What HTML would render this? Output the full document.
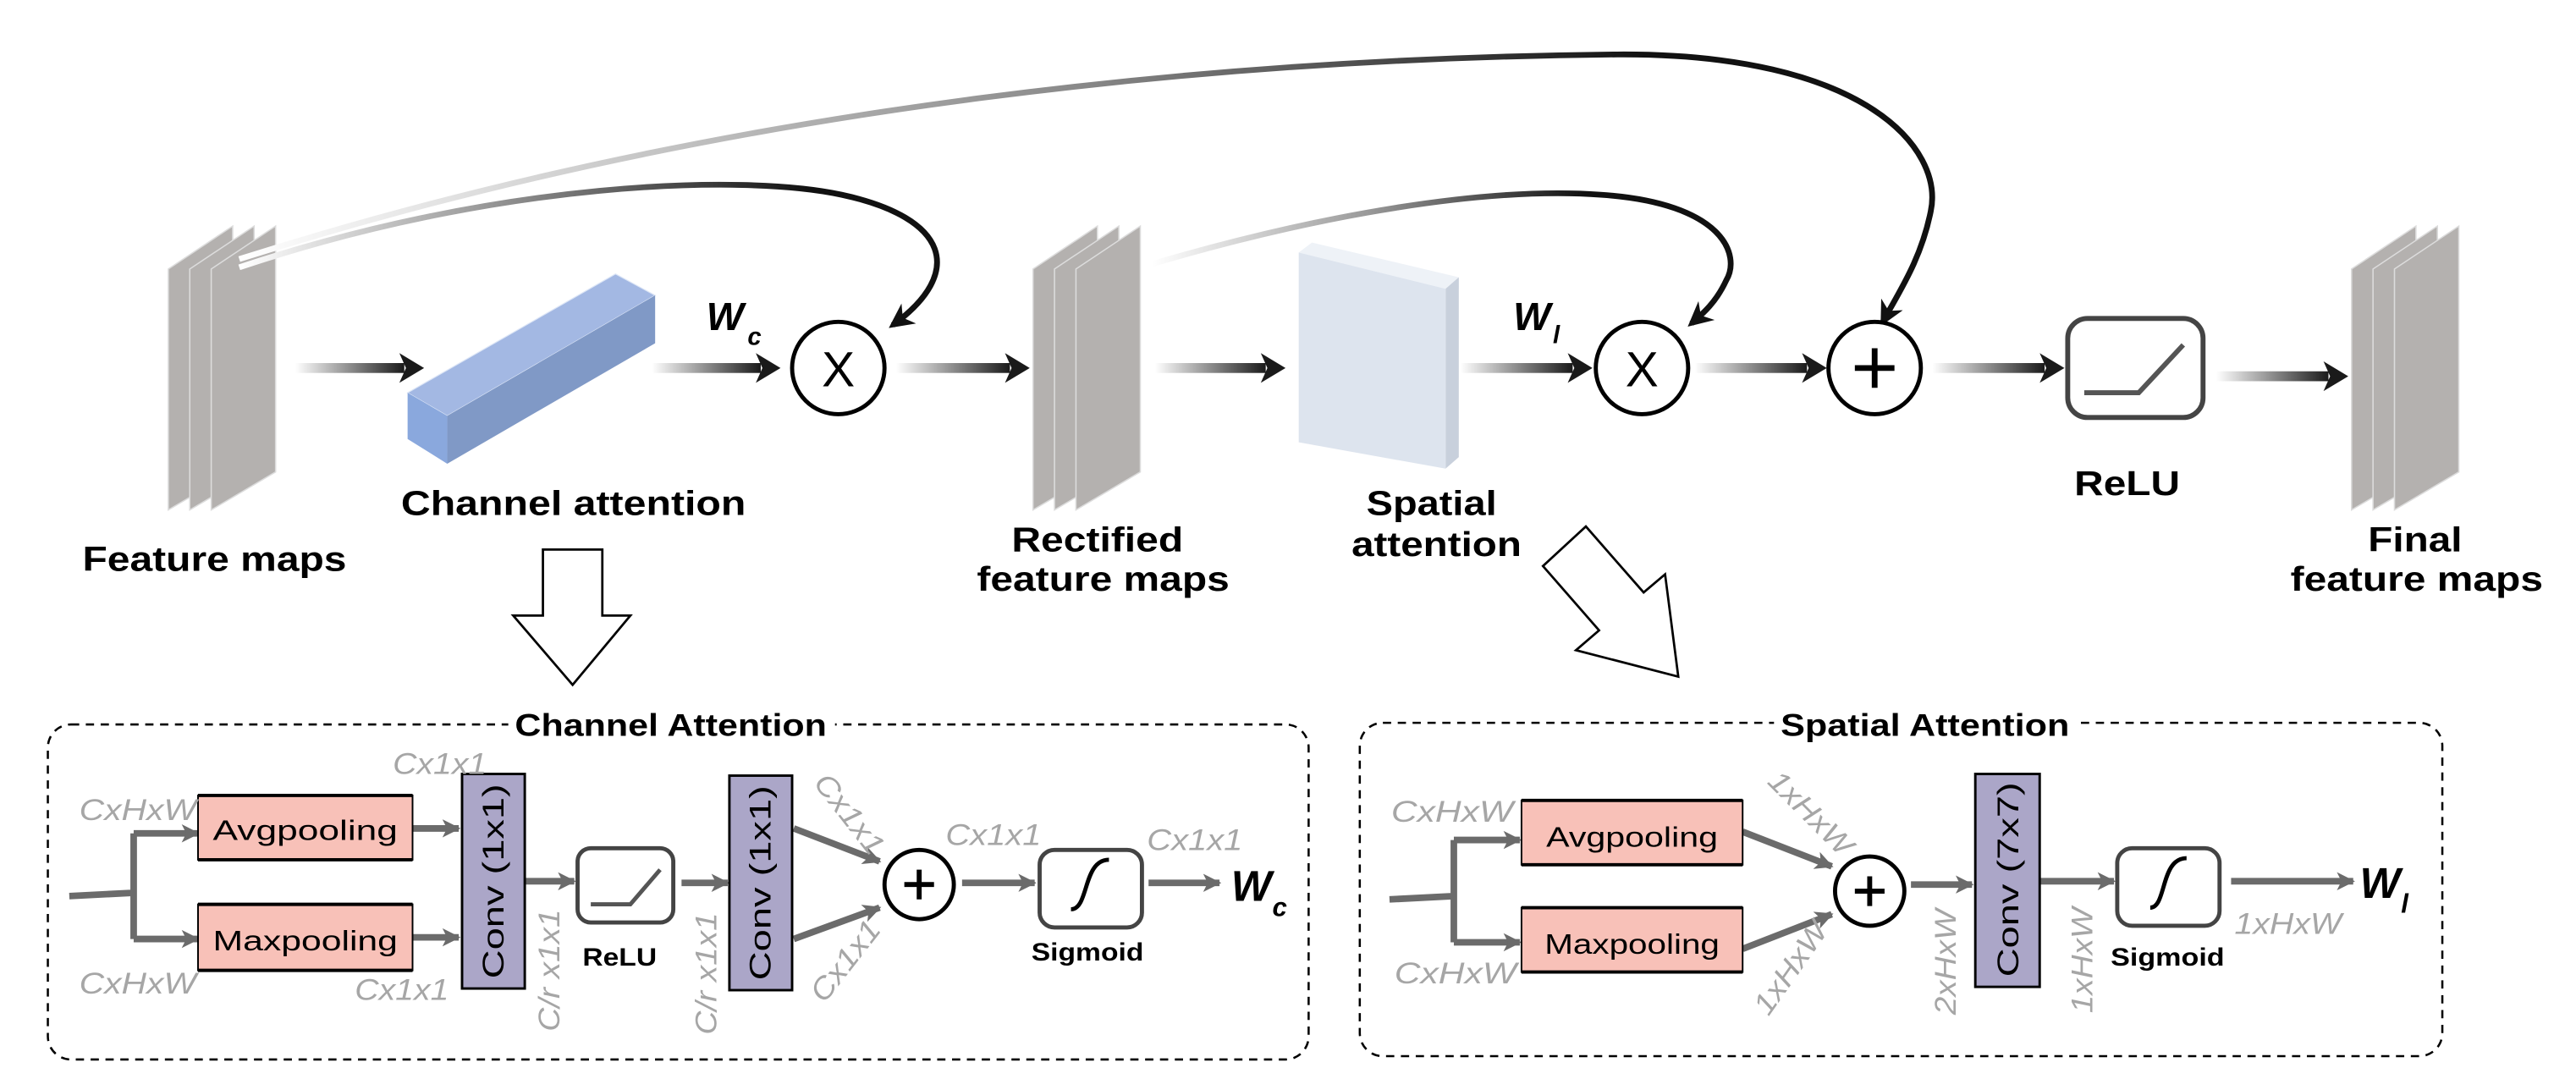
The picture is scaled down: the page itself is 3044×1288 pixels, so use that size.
<!DOCTYPE html>
<html><head><meta charset="utf-8"><style>html,body{margin:0;padding:0;background:#fff}svg{display:block}</style></head>
<body>
<svg width="3044" height="1288" viewBox="0 0 1561 660.5" preserveAspectRatio="none" xmlns="http://www.w3.org/2000/svg" font-family="'Liberation Sans', Arial, sans-serif">
<defs>
<linearGradient id="ag" x1="0" y1="0" x2="1" y2="0"><stop offset="0" stop-color="#fff"/><stop offset="1" stop-color="#1a1a1a"/></linearGradient>
<linearGradient id="gA" gradientUnits="userSpaceOnUse" x1="145" y1="0" x2="490" y2="0"><stop offset="0" stop-color="#fff"/><stop offset="0.5" stop-color="#888"/><stop offset="1" stop-color="#111"/></linearGradient>
<linearGradient id="gB" gradientUnits="userSpaceOnUse" x1="145" y1="0" x2="1000" y2="0"><stop offset="0" stop-color="#fff"/><stop offset="0.6" stop-color="#888"/><stop offset="1" stop-color="#111"/></linearGradient>
<linearGradient id="gC" gradientUnits="userSpaceOnUse" x1="698" y1="0" x2="960" y2="0"><stop offset="0" stop-color="#fff"/><stop offset="0.5" stop-color="#999"/><stop offset="1" stop-color="#111"/></linearGradient>
<marker id="mk" viewBox="0 0 10 10" refX="8" refY="5" markerUnits="userSpaceOnUse" markerWidth="15" markerHeight="15" orient="auto"><path d="M0,0 L10,5 L0,10 L3,5 z" fill="#111"/></marker>
<marker id="gm" viewBox="0 0 10 10" refX="9" refY="5" markerUnits="userSpaceOnUse" markerWidth="11" markerHeight="13" orient="auto"><path d="M0,0 L10,5 L0,10 L2.5,5 z" fill="#6b6b6b"/></marker>
</defs>

<!-- feature map stacks -->
<g id="fm" fill="#b4b1af" stroke="#dcdcdc" stroke-width="0.8">
<polygon points="102,163 141,137 141,286 102,309"/>
<polygon points="115,163 154,137 154,286 115,309"/>
<polygon points="128,163 167,137 167,286 128,309"/>
</g>
<use href="#fm" x="524"/>
<use href="#fm" x="1323"/>

<!-- curves -->
<path d="M145 162 C300 110,450 105,510 118 C575 132,585 165,541 197" fill="none" stroke="url(#gA)" stroke-width="3.5" marker-end="url(#mk)"/>
<path d="M145 157 C450 60,760 35,980 33 C1130 32,1178 90,1170 128 C1164 158,1150 178,1141 195" fill="none" stroke="url(#gB)" stroke-width="3.5" marker-end="url(#mk)"/>
<path d="M698 160 C800 130,900 113,970 118 C1045 123,1055 155,1046 170 C1040 183,1032 190,1025 196" fill="none" stroke="url(#gC)" stroke-width="3.5" marker-end="url(#mk)"/>

<!-- channel attention block -->
<polygon points="247,238 373,166 397,179 271,252" fill="#a3b8e3" stroke="#dde6f6" stroke-width="0.6"/>
<polygon points="271,252 397,179 397,208 271,281" fill="#8099c6"/>
<polygon points="247,238 271,252 271,281 247,266" fill="#8aa8dd"/>

<!-- spatial attention slab -->
<polygon points="787,153 795,147 884,168 876,175" fill="#eef2f7"/>
<polygon points="876,175 884,168 884,277 876,284" fill="#c8d0dc"/>
<polygon points="787,153 876,175 876,284 787,268" fill="#dde4ee"/>

<!-- main arrows -->
<g>
<rect x="179" y="220" width="66" height="6" fill="url(#ag)"/><polygon points="242,214 257,223 242,232 246,223" fill="#1a1a1a"/>
<rect x="395" y="220" width="66" height="6" fill="url(#ag)"/><polygon points="458,214 473,223 458,232 462,223" fill="#1a1a1a"/>
<rect x="543" y="220" width="69" height="6" fill="url(#ag)"/><polygon points="609,214 624,223 609,232 613,223" fill="#1a1a1a"/>
<rect x="700" y="220" width="67" height="6" fill="url(#ag)"/><polygon points="764,214 779,223 764,232 768,223" fill="#1a1a1a"/>
<rect x="885" y="220" width="68" height="6" fill="url(#ag)"/><polygon points="950,214 965,223 950,232 954,223" fill="#1a1a1a"/>
<rect x="1027" y="220" width="68" height="6" fill="url(#ag)"/><polygon points="1092,214 1107,223 1092,232 1096,223" fill="#1a1a1a"/>
<rect x="1171" y="220" width="68" height="6" fill="url(#ag)"/><polygon points="1236,214 1251,223 1236,232 1240,223" fill="#1a1a1a"/>
<rect x="1343" y="225" width="68" height="6" fill="url(#ag)"/><polygon points="1408,219 1423,228 1408,237 1412,228" fill="#1a1a1a"/>
</g>

<!-- operators -->
<circle cx="508" cy="223" r="28" fill="#fff" stroke="#000" stroke-width="2.5"/>
<text x="508" y="234" font-size="30" text-anchor="middle">X</text>
<circle cx="995" cy="223" r="28" fill="#fff" stroke="#000" stroke-width="2.5"/>
<text x="995" y="234" font-size="30" text-anchor="middle">X</text>
<circle cx="1136" cy="223" r="28" fill="#fff" stroke="#000" stroke-width="2.5"/>
<path d="M1124 223 H1148 M1136 211 V235" stroke="#000" stroke-width="3.5"/>

<rect x="1253" y="193" width="82" height="60" rx="12" fill="#fff" stroke="#444" stroke-width="3"/>
<polyline points="1263,238 1296,238 1323,209" fill="none" stroke="#555" stroke-width="3"/>

<!-- main labels -->
<g font-weight="bold" fill="#000" font-size="21">
<text x="50" y="346" textLength="160" lengthAdjust="spacingAndGlyphs">Feature maps</text>
<text x="243" y="312" textLength="209" lengthAdjust="spacingAndGlyphs">Channel attention</text>
<text x="613" y="334" textLength="104" lengthAdjust="spacingAndGlyphs">Rectified</text>
<text x="592" y="358" textLength="153" lengthAdjust="spacingAndGlyphs">feature maps</text>
<text x="828" y="312" textLength="79" lengthAdjust="spacingAndGlyphs">Spatial</text>
<text x="819" y="337" textLength="103" lengthAdjust="spacingAndGlyphs">attention</text>
<text x="1257" y="300" textLength="64" lengthAdjust="spacingAndGlyphs">ReLU</text>
<text x="1435" y="334" textLength="57" lengthAdjust="spacingAndGlyphs">Final</text>
<text x="1388" y="358" textLength="153" lengthAdjust="spacingAndGlyphs">feature maps</text>
</g>
<g font-weight="bold" font-style="italic" fill="#000">
<text x="428" y="200" font-size="24">W</text><text x="453" y="209" font-size="15">c</text>
<text x="917" y="200" font-size="24">W</text><text x="941" y="208" font-size="15">l</text>
</g>

<!-- hollow arrows -->
<polygon points="329,333 365,333 365,373 382,373 347,415 311,373 329,373" fill="#fff" stroke="#000" stroke-width="1.4"/>
<polygon points="961,319 996,359 1009,348 1017,410 955,394 969,382 935,343" fill="#fff" stroke="#000" stroke-width="1.4"/>

<!-- dashed boxes -->
<rect x="29" y="439" width="764" height="203" rx="14" fill="none" stroke="#000" stroke-width="1.3" stroke-dasharray="5,4"/>
<rect x="824" y="438" width="656" height="202" rx="14" fill="none" stroke="#000" stroke-width="1.3" stroke-dasharray="5,4"/>
<rect x="308" y="430" width="198" height="18" fill="#fff"/>
<rect x="1075" y="430" width="184" height="18" fill="#fff"/>
<g font-weight="bold" font-size="19">
<text x="312" y="446" textLength="189" lengthAdjust="spacingAndGlyphs">Channel Attention</text>
<text x="1079" y="446" textLength="175" lengthAdjust="spacingAndGlyphs">Spatial Attention</text>
</g>

<!-- channel attention detail -->
<g stroke="#6b6b6b" stroke-width="4" fill="none">
<path d="M42 543 L81 541 M81 505 V569"/>
<line x1="81" y1="505" x2="120" y2="505" marker-end="url(#gm)"/>
<line x1="81" y1="569" x2="120" y2="569" marker-end="url(#gm)"/>
<line x1="250" y1="502" x2="278" y2="502" marker-end="url(#gm)"/>
<line x1="250" y1="568" x2="278" y2="568" marker-end="url(#gm)"/>
<line x1="318" y1="534" x2="348" y2="534" marker-end="url(#gm)"/>
<line x1="413" y1="535" x2="441" y2="535" marker-end="url(#gm)"/>
<line x1="481" y1="502" x2="533" y2="522" marker-end="url(#gm)"/>
<line x1="481" y1="569" x2="533" y2="550" marker-end="url(#gm)"/>
<line x1="583" y1="535" x2="627" y2="535" marker-end="url(#gm)"/>
<line x1="696" y1="535" x2="739" y2="535" marker-end="url(#gm)"/>
</g>
<g stroke="#000">
<rect x="120" y="482" width="130" height="39" fill="#f8c1b8" stroke-width="1"/>
<path d="M120 482 H250 M120 521 H250" stroke-width="2"/>
<rect x="120" y="548" width="130" height="40" fill="#f8c1b8" stroke-width="1"/>
<path d="M120 548 H250 M120 588 H250" stroke-width="2"/>
<rect x="280" y="469" width="38" height="130" fill="#aba6c8" stroke-width="1.5"/>
<rect x="442" y="470" width="38" height="130" fill="#aba6c8" stroke-width="1.5"/>
</g>
<g font-size="17" fill="#000">
<text x="185" y="509" text-anchor="middle" textLength="112" lengthAdjust="spacingAndGlyphs">Avgpooling</text>
<text x="185" y="576" text-anchor="middle" textLength="112" lengthAdjust="spacingAndGlyphs">Maxpooling</text>
<text transform="translate(305,534) rotate(-90)" text-anchor="middle" font-size="18" textLength="118" lengthAdjust="spacingAndGlyphs">Conv (1x1)</text>
<text transform="translate(467,535) rotate(-90)" text-anchor="middle" font-size="18" textLength="118" lengthAdjust="spacingAndGlyphs">Conv (1x1)</text>
</g>
<rect x="350" y="514" width="58" height="45" rx="8" fill="#fff" stroke="#444" stroke-width="2.5"/>
<polyline points="358,548 382,548 400,527" fill="none" stroke="#555" stroke-width="2.5"/>
<circle cx="557" cy="536" r="21" fill="#fff" stroke="#000" stroke-width="2.5"/>
<path d="M548 536 H566 M557 527 V545" stroke="#000" stroke-width="3"/>
<rect x="630" y="515" width="62" height="47" rx="9" fill="#fff" stroke="#444" stroke-width="2.5"/>
<path d="M649 551 C660 551,656 521,672 521" fill="none" stroke="#000" stroke-width="2.5"/>
<g font-weight="bold" fill="#000">
<text x="353" y="585" font-size="15" textLength="45" lengthAdjust="spacingAndGlyphs">ReLU</text>
<text x="625" y="582" font-size="15" textLength="68" lengthAdjust="spacingAndGlyphs">Sigmoid</text>
<text x="746" y="546" font-size="26" font-style="italic">W</text>
<text x="771" y="555" font-size="16" font-style="italic">c</text>
</g>
<g fill="#a6a6a6" font-style="italic" font-size="18">
<text x="48" y="497" textLength="71" lengthAdjust="spacingAndGlyphs">CxHxW</text>
<text x="48" y="602" textLength="71" lengthAdjust="spacingAndGlyphs">CxHxW</text>
<text x="238" y="469" textLength="57" lengthAdjust="spacingAndGlyphs">Cx1x1</text>
<text x="215" y="606" textLength="57" lengthAdjust="spacingAndGlyphs">Cx1x1</text>
<text transform="translate(339,588) rotate(-90)" text-anchor="middle" textLength="74" lengthAdjust="spacingAndGlyphs">C/r x1x1</text>
<text transform="translate(434,590) rotate(-90)" text-anchor="middle" textLength="74" lengthAdjust="spacingAndGlyphs">C/r x1x1</text>
<text transform="translate(510,497) rotate(52)" text-anchor="middle" textLength="57" lengthAdjust="spacingAndGlyphs">Cx1x1</text>
<text transform="translate(517,586) rotate(-52)" text-anchor="middle" textLength="57" lengthAdjust="spacingAndGlyphs">Cx1x1</text>
<text x="573" y="512" textLength="58" lengthAdjust="spacingAndGlyphs">Cx1x1</text>
<text x="695" y="515" textLength="58" lengthAdjust="spacingAndGlyphs">Cx1x1</text>
</g>

<!-- spatial attention detail -->
<g stroke="#6b6b6b" stroke-width="4" fill="none">
<path d="M842 545 L881 543 M881 509 V571"/>
<line x1="881" y1="509" x2="921" y2="509" marker-end="url(#gm)"/>
<line x1="881" y1="571" x2="921" y2="571" marker-end="url(#gm)"/>
<line x1="1056" y1="504" x2="1110" y2="525" marker-end="url(#gm)"/>
<line x1="1056" y1="575" x2="1110" y2="554" marker-end="url(#gm)"/>
<line x1="1158" y1="536" x2="1195" y2="536" marker-end="url(#gm)"/>
<line x1="1236" y1="534" x2="1281" y2="534" marker-end="url(#gm)"/>
<line x1="1352" y1="534" x2="1426" y2="534" marker-end="url(#gm)"/>
</g>
<g stroke="#000">
<rect x="922" y="485" width="134" height="39" fill="#f8c1b8" stroke-width="1"/>
<path d="M922 485 H1056 M922 524 H1056" stroke-width="2"/>
<rect x="922" y="550" width="134" height="39" fill="#f8c1b8" stroke-width="1"/>
<path d="M922 550 H1056 M922 589 H1056" stroke-width="2"/>
<rect x="1197" y="469" width="39" height="129" fill="#aba6c8" stroke-width="1.5"/>
</g>
<g font-size="17" fill="#000">
<text x="989" y="513" text-anchor="middle" textLength="104" lengthAdjust="spacingAndGlyphs">Avgpooling</text>
<text x="989" y="578" text-anchor="middle" textLength="106" lengthAdjust="spacingAndGlyphs">Maxpooling</text>
<text transform="translate(1223,533) rotate(-90)" text-anchor="middle" font-size="18" textLength="118" lengthAdjust="spacingAndGlyphs">Conv (7x7)</text>
</g>
<circle cx="1133" cy="540" r="21" fill="#fff" stroke="#000" stroke-width="2.5"/>
<path d="M1124 540 H1142 M1133 531 V549" stroke="#000" stroke-width="3"/>
<rect x="1283" y="514" width="62" height="47" rx="9" fill="#fff" stroke="#444" stroke-width="2.5"/>
<path d="M1303 550 C1313 550,1309 520,1325 520" fill="none" stroke="#000" stroke-width="2.5"/>
<g font-weight="bold" fill="#000">
<text x="1279" y="585" font-size="15" textLength="69" lengthAdjust="spacingAndGlyphs">Sigmoid</text>
<text x="1430" y="544" font-size="26" font-style="italic">W</text>
<text x="1455" y="553" font-size="16" font-style="italic">l</text>
</g>
<g fill="#a6a6a6" font-style="italic" font-size="18">
<text x="843" y="498" textLength="74" lengthAdjust="spacingAndGlyphs">CxHxW</text>
<text x="845" y="596" textLength="74" lengthAdjust="spacingAndGlyphs">CxHxW</text>
<text transform="translate(1093,497) rotate(45)" text-anchor="middle" textLength="64" lengthAdjust="spacingAndGlyphs">1xHxW</text>
<text transform="translate(1090,590) rotate(-55)" text-anchor="middle" textLength="64" lengthAdjust="spacingAndGlyphs">1xHxW</text>
<text transform="translate(1185,583) rotate(-90)" text-anchor="middle" textLength="64" lengthAdjust="spacingAndGlyphs">2xHxW</text>
<text transform="translate(1268,582) rotate(-90)" text-anchor="middle" textLength="64" lengthAdjust="spacingAndGlyphs">1xHxW</text>
<text x="1354" y="566" textLength="65" lengthAdjust="spacingAndGlyphs">1xHxW</text>
</g>
</svg>
</body></html>
